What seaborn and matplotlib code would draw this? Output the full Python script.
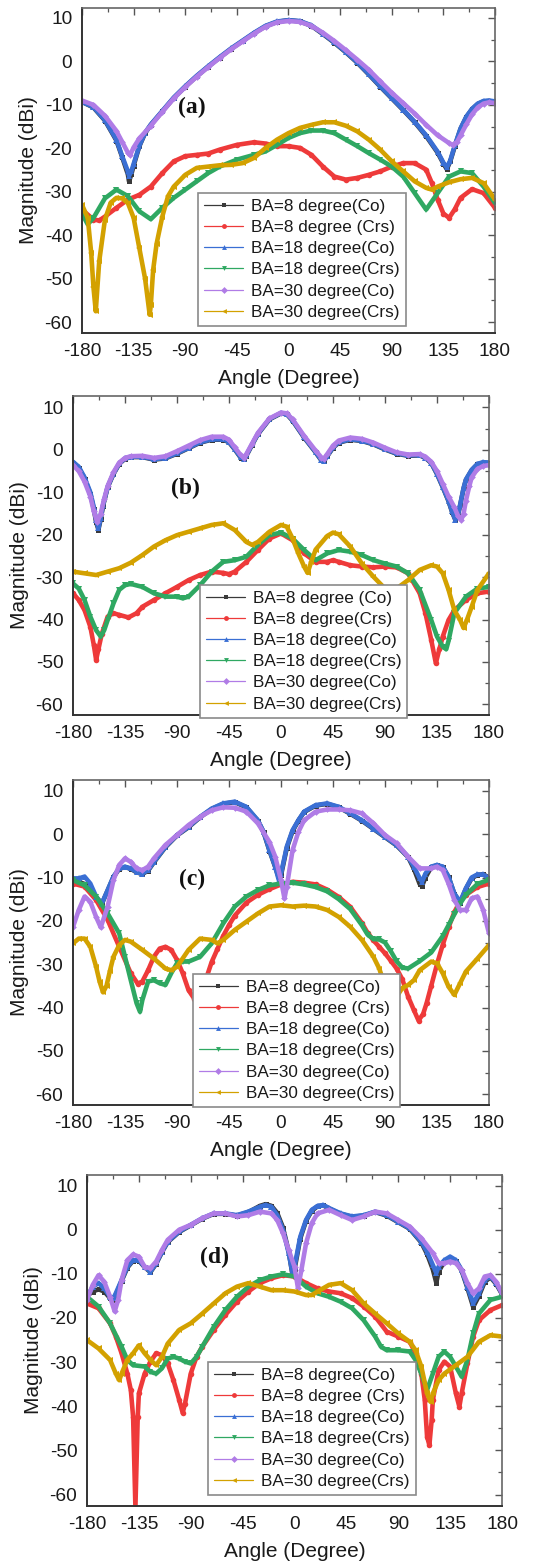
import matplotlib
matplotlib.use("Agg")
import matplotlib.pyplot as plt
from matplotlib.lines import Line2D
from matplotlib.ticker import MultipleLocator
import seaborn as sns

# ---------------- Panel (a) ----------------
A_CO8_X = [-180,-170,-160,-150,-145,-140,-139,-137,-135,-130,-125,-120,-110,-100,-90,-80,-70,-60,-50,-40,-30,-20,-10,0,10,20,30,40,50,60,70,80,90,100,110,120,130,135,138,141,145,150,155,160,165,170,175,180]
A_CO8_Y = [-9.3,-10.6,-13.6,-18.2,-22,-26,-27.6,-26,-24,-19.5,-16.5,-14.6,-11.5,-8.4,-5.8,-3.4,-1.2,0.9,2.9,4.7,6.5,8.1,9.1,9.5,9.2,8.2,6.3,4.3,2.1,-0.3,-3,-5.8,-8.5,-11.2,-14,-17.2,-21,-23.5,-24.8,-23,-19.5,-15.5,-12.8,-11,-9.8,-9.2,-9.1,-9.3]
A_CO18_X = A_CO8_X
A_CO18_Y = [-9.3,-10.5,-13.5,-18,-21.8,-25.3,-26.3,-25.3,-23.6,-19.4,-16.4,-14.5,-11.4,-8.3,-5.7,-3.3,-1.1,1,3,4.8,6.6,8.2,9.2,9.5,9.3,8.3,6.4,4.4,2.2,-0.2,-2.9,-5.7,-8.4,-11.1,-13.9,-17,-20.8,-23.3,-24.4,-22.8,-19.3,-15.4,-12.7,-10.9,-9.7,-9.1,-9,-9.2]
A_CO30_X = [-180,-170,-160,-150,-145,-140,-138,-135,-130,-120,-110,-100,-90,-80,-70,-60,-50,-40,-30,-20,-10,0,10,20,30,40,50,60,70,80,90,100,110,120,130,140,143,147,150,155,160,165,170,175,180]
A_CO30_Y = [-9,-10,-12.5,-16,-18.5,-21,-21.5,-19.8,-17.7,-14.8,-11.6,-8.5,-5.9,-3.5,-1.3,0.8,2.8,4.6,6.4,8,9,9.3,9.1,8.2,6.6,4.7,2.6,0.4,-1.9,-4.6,-7.2,-9.6,-12,-14.6,-17,-18.8,-19.2,-18.5,-17,-14.5,-12.2,-10.6,-9.7,-9.4,-9.6]
A_CRS8_X = [-180,-170,-165,-160,-150,-140,-130,-120,-110,-100,-90,-80,-70,-60,-45,-30,-20,-10,0,10,20,30,40,50,60,70,80,90,100,110,120,125,130,135,140,145,150,160,170,180]
A_CRS8_Y = [-34.1,-36.4,-36.6,-35.7,-33.7,-31.8,-30.7,-28.8,-25.7,-23,-21.8,-21.5,-21.2,-20.3,-19.2,-18.6,-18.9,-19.5,-19.5,-19.9,-21.5,-24.2,-26.5,-27.2,-26.8,-26.1,-25.3,-24.2,-23.4,-23.4,-24.9,-28,-31.8,-35,-36,-34,-31.4,-29.4,-30.3,-33.7]
A_CRS18_X = [-180,-175,-170,-160,-150,-140,-130,-120,-110,-100,-90,-80,-70,-60,-45,-30,-20,-10,0,10,20,30,40,50,60,70,80,90,100,110,120,130,140,150,160,170,180]
A_CRS18_Y = [-35,-37.5,-36,-31.5,-29.5,-31,-34.5,-36.3,-33.7,-31.4,-29.5,-27.6,-25.7,-24.2,-22.6,-21.5,-20.7,-19.2,-17.6,-16.5,-15.9,-15.9,-16.5,-18,-19.5,-21.1,-22.6,-24.2,-26.5,-30.3,-34.1,-30.3,-26.5,-25.3,-25.7,-28.8,-32.6]
A_CRS30_X = [-180,-175,-172,-170,-168,-165,-160,-155,-150,-145,-140,-135,-130,-125,-121,-120,-118,-115,-110,-105,-100,-90,-80,-70,-60,-50,-40,-30,-20,-10,0,10,20,30,40,50,60,70,80,90,100,110,120,125,130,140,150,160,170,180]
A_CRS30_Y = [-33,-36,-44,-52,-57.5,-46,-36.4,-32.5,-31.4,-31.5,-32.6,-36,-43,-50,-58.3,-56,-48,-42,-35.7,-31,-28.8,-26.1,-24.5,-24.2,-23.9,-23.8,-23.4,-22.2,-19.9,-18,-16.5,-15.3,-14.6,-14,-14,-14.8,-16.1,-18,-20.3,-23,-25.3,-27.6,-29.1,-29.5,-28.8,-27.8,-27.1,-26.8,-28,-31.8]

# ---------------- Panel (b) ----------------
B_CO8_X = [-180,-175,-170,-165,-162,-160,-158,-156,-154,-150,-145,-140,-135,-130,-120,-110,-100,-90,-80,-70,-60,-50,-45,-40,-35,-32,-30,-25,-20,-10,0,5,10,20,30,35,37,40,45,50,60,70,80,90,100,110,120,125,130,135,140,145,148,151,153,155,158,160,165,170,175,180]
B_CO8_Y = [-3,-4.2,-6.8,-10.3,-14,-17,-18.8,-16.3,-13.2,-8.8,-5.7,-3.3,-2.1,-1.7,-1.7,-2.3,-2,-0.9,0.4,1.7,2.4,2.4,1.8,0.1,-1.8,-2.2,-1.4,1.2,3.7,7.2,8.6,8.4,6.9,2.9,-0.6,-2.5,-2.7,-1.5,0.5,1.7,2.4,2.1,1.3,0.1,-0.9,-1.4,-1.3,-1.9,-3.1,-5.7,-8.8,-12.1,-14.6,-16.6,-15.6,-13.1,-9.1,-7.1,-4.8,-3.4,-3,-3.1]
B_CO18_X = B_CO8_X
B_CO18_Y = [-2.8,-4,-6.5,-10,-13.5,-16.5,-18.5,-16,-13,-8.7,-5.6,-3.2,-2,-1.6,-1.6,-2.2,-1.9,-0.8,0.5,1.8,2.5,2.5,1.9,0.2,-1.7,-2.1,-1.3,1.3,3.8,7.3,8.7,8.5,7,3,-0.5,-2.4,-2.6,-1.4,0.6,1.8,2.5,2.2,1.4,0.2,-0.8,-1.3,-1.2,-1.8,-3,-5.6,-8.7,-12,-14.5,-16.5,-15.5,-13,-9,-7,-4.7,-3.3,-2.9,-3]
B_CO30_X = [-180,-175,-170,-165,-162,-159,-156,-153,-150,-145,-140,-135,-130,-120,-110,-100,-90,-80,-70,-60,-50,-45,-40,-35,-32,-30,-25,-20,-10,0,5,10,20,30,35,37,40,45,50,60,70,80,90,100,110,120,125,130,135,140,145,150,153,156,158,160,163,165,170,175,180]
B_CO30_Y = [-3.6,-5,-7.5,-11,-14.5,-17,-15,-11.5,-8.5,-5.3,-3,-1.9,-1.5,-1.4,-1.9,-1.5,-0.3,1,2.3,3.1,3.1,2.4,0.6,-1.2,-1.8,-1,1.5,4,7.4,8.8,8.6,7.2,3.3,-0.2,-1.8,-2.1,-1,1,2.2,2.9,2.6,1.7,0.5,-0.6,-1.1,-1,-1.6,-2.8,-5,-8,-11,-13.5,-15.5,-16.5,-15,-12,-8.5,-6.5,-4.5,-3.8,-3.6]
B_CRS8_X = [-180,-175,-170,-165,-162,-160,-158,-155,-150,-145,-140,-132,-125,-120,-110,-100,-90,-80,-70,-60,-50,-45,-40,-30,-20,-10,0,10,20,30,40,45,50,60,70,80,90,100,110,120,125,130,134,137,140,145,150,160,170,180]
B_CRS8_Y = [-33.8,-35.4,-37.8,-41.7,-46,-49.5,-47,-43.3,-39.3,-38.5,-38.9,-39.5,-38.5,-37,-35.4,-33.8,-32.3,-30.7,-29.5,-28.7,-29,-29.3,-28.7,-26.4,-23.6,-20.9,-19.7,-21.3,-24.4,-26.4,-26.4,-26,-26.4,-27.2,-27.5,-27.7,-27.5,-27.7,-29.1,-33.8,-38.5,-44.8,-50.3,-47,-44,-40.1,-37.8,-35.4,-33.8,-33.4]
B_CRS18_X = [-180,-175,-170,-165,-160,-156,-153,-150,-145,-140,-135,-130,-120,-110,-100,-90,-85,-80,-70,-60,-50,-40,-30,-20,-10,0,10,20,30,40,50,60,70,80,90,100,110,120,130,135,140,143,145,150,160,170,180]
B_CRS18_Y = [-31.5,-32.7,-35.4,-39.3,-42.5,-44,-42.5,-40.1,-36.2,-33,-31.9,-31.6,-32.3,-33.8,-34.6,-34.6,-35,-34.6,-31.9,-28.7,-26.4,-26,-25.2,-22.4,-20.1,-19.5,-20.9,-23.6,-26,-24.4,-23.6,-24,-24.8,-26,-26.8,-27.5,-29.1,-33,-40.1,-44,-46.4,-47,-45,-38.5,-34.6,-32.7,-32.3]
B_CRS30_X = [-180,-170,-160,-150,-140,-130,-120,-110,-100,-90,-80,-70,-60,-50,-40,-30,-25,-20,-10,0,5,10,15,20,23,26,30,40,45,50,60,70,80,90,100,110,120,130,135,140,145,150,155,158,161,165,170,180]
B_CRS30_Y = [-28.7,-29.1,-29.5,-28.7,-27.9,-26.6,-24.8,-22.8,-21.3,-20.1,-19.3,-18.5,-17.7,-17.3,-18.9,-21.7,-22.4,-21.7,-19.3,-17.7,-18.1,-20.9,-24.4,-27.5,-29,-26.5,-23.5,-20.3,-19.5,-19.9,-22.8,-26.8,-29.9,-32.7,-32.7,-30.7,-28.3,-27.2,-27.5,-29.1,-33,-37.8,-40.1,-42,-40,-37,-33,-29.1]

# ---------------- Panel (c) ----------------
C_CO8_X = [-180,-175,-170,-165,-160,-155,-150,-145,-140,-135,-130,-125,-120,-115,-110,-100,-90,-80,-70,-60,-50,-40,-30,-20,-15,-10,-5,-2,0,5,10,15,20,30,40,50,60,70,80,90,100,110,115,120,122,125,130,135,140,145,150,155,160,165,170,175,180]
C_CO8_Y = [-10.5,-11,-11.5,-12.5,-14.8,-16,-13,-9.9,-8,-7.6,-8,-8.8,-9.2,-8.4,-6.5,-3,-0.3,1.6,3.9,5.8,7,7.4,6.2,3.1,0.4,-3.8,-7.6,-10,-9.5,-3.2,0.7,3.1,5.1,6.6,7,6.2,4.7,3.1,1.2,-0.7,-2.6,-5.3,-8,-11.5,-12,-10,-7.6,-7.2,-7.6,-9.9,-13.8,-15.8,-12.6,-10.2,-9.4,-9.3,-10]
C_CO18_X = C_CO8_X
C_CO18_Y = [-10.2,-10.2,-9.8,-11.4,-14.4,-16,-12.9,-9.8,-7.9,-7.5,-7.9,-8.7,-9.1,-8.3,-6.4,-2.9,-0.2,1.7,4,5.9,7.1,7.5,6.3,3.2,0.5,-3.7,-7.5,-10.5,-9.1,-2.9,0.9,3.2,5.2,6.7,7.1,6.3,4.8,3.2,1.3,-0.6,-2.5,-5.2,-7.5,-10.2,-11,-9.1,-7.5,-7.1,-7.5,-9.8,-13.7,-15.6,-12.5,-10,-9.3,-9.3,-10.2]
C_CO30_X = [-180,-175,-170,-165,-160,-156,-150,-145,-140,-135,-130,-125,-120,-115,-110,-100,-90,-80,-70,-60,-50,-40,-30,-20,-10,-5,0,3,5,10,15,20,30,40,50,60,70,80,90,100,110,120,130,135,140,145,150,155,160,165,170,175,180]
C_CO30_Y = [-21.4,-17.5,-14.4,-15.6,-19.1,-21.5,-16.7,-10.6,-7.1,-5.6,-6.4,-7.9,-8.3,-7.5,-5.6,-2.5,-0.2,2.1,4,5.5,6.2,6.1,5.2,2.5,-1.8,-5.2,-10.6,-14.8,-12.1,-3.7,0.5,3.2,5.2,5.7,5.7,5.5,4.8,2.5,-0.2,-2.1,-5.2,-7.9,-7.9,-7.5,-8.3,-11.4,-15.2,-17.5,-17.5,-14.8,-14.4,-17.5,-22.9]
C_CRS8_X = [-180,-170,-160,-150,-140,-130,-124,-120,-115,-110,-105,-100,-95,-90,-85,-80,-75,-70,-65,-60,-55,-50,-45,-40,-30,-20,-10,0,10,20,30,40,50,60,70,75,80,85,90,95,100,105,110,115,119,123,126,130,135,140,145,150,155,160,170,180]
C_CRS8_Y = [-11.4,-12.1,-15.2,-19.8,-26,-32.1,-34.5,-34,-31.4,-28.3,-26.4,-26,-26.7,-29,-32.1,-36,-38,-37,-33.5,-29.5,-26.5,-23.5,-21,-18.8,-15.8,-14,-12.7,-11.6,-11,-11.2,-11.6,-12.8,-14.5,-16.8,-20.5,-22.8,-24.5,-26,-27.5,-29.2,-31,-33.5,-37.5,-40.6,-43,-41.5,-39,-35,-30,-25.5,-21.5,-18,-15.5,-14,-12.2,-11.4]
C_CRS18_X = [-180,-170,-160,-150,-140,-135,-130,-125,-122,-120,-115,-110,-105,-100,-95,-90,-85,-80,-70,-60,-50,-40,-30,-20,-10,0,10,20,30,40,50,60,70,75,80,85,90,95,100,105,110,120,130,140,145,150,155,160,170,180]
C_CRS18_Y = [-10.6,-11.8,-14.4,-18.3,-22.9,-28.3,-33.7,-39,-41,-38.3,-34,-33.7,-34.4,-34.8,-32.1,-29.8,-29.4,-29.4,-28.3,-25.2,-20.6,-16.7,-14.4,-12.9,-11.8,-11.4,-11.2,-11.6,-12.2,-13.2,-15,-17.3,-21,-23.2,-24.2,-24.3,-25,-27,-29.3,-30.8,-31,-29.3,-27.3,-23.5,-21,-18.5,-16,-14,-11.5,-10.5]
C_CRS30_X = [-180,-175,-170,-165,-160,-157,-154,-151,-148,-145,-140,-135,-130,-120,-110,-100,-95,-90,-80,-70,-60,-55,-50,-40,-30,-20,-10,0,10,20,30,40,50,60,70,80,85,90,95,100,105,110,115,120,130,135,140,145,150,155,160,170,180]
C_CRS30_Y = [-25.2,-24.1,-24.1,-26,-30.6,-34,-36.5,-35,-31.5,-28.3,-25.6,-24.4,-24.8,-26.7,-28.7,-31,-31.4,-30.6,-26.7,-24.1,-24.4,-25.2,-24.4,-22.1,-20.2,-18.3,-16.7,-16.4,-16.7,-16.5,-16.7,-17.5,-19.1,-21.4,-24.4,-28.3,-31,-35,-41,-37.5,-35.5,-34.8,-33.7,-31.4,-29.4,-29.8,-32.1,-35.2,-37.1,-34.4,-31.7,-28.7,-25.6]

# ---------------- Panel (d) ----------------
D_CO8_X = [-180,-175,-170,-165,-160,-157,-155,-150,-145,-140,-135,-130,-125,-120,-115,-110,-100,-90,-80,-70,-60,-50,-40,-30,-25,-20,-15,-10,-5,-2,0,5,10,15,20,25,30,40,50,60,70,80,90,100,110,115,120,123,125,130,135,140,145,150,155,160,165,170,175,180]
D_CO8_Y = [-15,-14,-13.5,-14,-15.5,-16,-14.8,-11.6,-8.6,-7,-7,-8.5,-9.6,-7.7,-5.1,-2.8,-0.5,1,2.5,3.6,3.6,3.2,4,5.4,5.8,5.4,3.8,0.5,-5,-9.8,-9,-2,2,4.3,5.3,5.5,4.8,3.6,2.9,3.2,4,3.2,1.7,0.2,-2.9,-5.5,-9,-12,-9.5,-7.2,-6.3,-7.1,-9.3,-13.2,-17.5,-15,-11.8,-10.8,-12.3,-14.6]
D_CO18_X = D_CO8_X
D_CO18_Y = [-15.2,-12.9,-12.1,-13.3,-15.2,-15.5,-14.4,-11.4,-8.4,-6.9,-6.9,-8.4,-9.5,-7.6,-5,-2.7,-0.4,1.1,2.6,3.7,3.7,3.3,4.1,5.2,5.6,5.2,3.3,0,-5.3,-9.5,-8.4,-1.6,2.2,4.5,5.4,5.6,4.9,3.7,3,3.3,4.1,3.3,1.8,0.3,-2.7,-5,-8,-9.8,-8.4,-6.9,-6.1,-6.9,-9.1,-12.9,-16.7,-14.4,-11.4,-10.6,-12.1,-14.4]
D_CO30_X = [-180,-175,-170,-165,-160,-156,-153,-150,-145,-140,-135,-130,-125,-120,-115,-110,-100,-90,-80,-70,-60,-50,-40,-30,-20,-15,-10,-5,0,3,6,10,15,20,30,40,50,60,70,80,90,100,110,120,125,130,135,140,145,150,155,160,165,170,175,180]
D_CO30_Y = [-15.9,-12.5,-10.3,-11.8,-15.2,-18.5,-15.9,-11.4,-6.9,-5.6,-6.1,-8.4,-8.7,-7.2,-4.6,-2.3,0,1.1,2.6,3.7,3.7,3,3.3,4.1,3.7,2.2,-0.8,-4.6,-8.4,-13.2,-9.1,-3.1,1.5,3.7,4.5,3.3,2.2,3,4.1,3.7,2.2,0.7,-1.9,-5.3,-7.6,-7.6,-7.2,-7.6,-9.1,-12.1,-14.4,-13.3,-10.6,-10.3,-11.8,-14.4]
D_CRS8_X = [-180,-170,-160,-155,-150,-145,-142,-140,-138,-136,-135,-130,-125,-120,-115,-110,-105,-100,-97,-95,-90,-85,-80,-70,-60,-50,-40,-30,-20,-10,0,10,20,30,40,50,60,70,80,90,100,105,110,113,115,117,119,120,125,130,135,140,143,145,150,155,160,170,180]
D_CRS8_Y = [-16.7,-17.8,-21.2,-24.2,-28,-32.6,-36.3,-42.4,-63,-42.4,-37.1,-32.6,-29.9,-28,-28.4,-30.3,-34.1,-38.6,-41.5,-39.4,-32.6,-28.8,-26.5,-22.7,-19.3,-16.3,-14,-12.1,-11,-10.3,-10.6,-12.1,-13.3,-14,-14.4,-15.5,-17.4,-19.7,-23.1,-24.2,-25.4,-28,-32.6,-38.6,-46.9,-48.8,-43.1,-38.6,-31.8,-29.9,-31,-37.1,-40.1,-37.1,-30.3,-24.2,-20.5,-18.2,-17.1]
D_CRS18_X = [-180,-170,-160,-150,-145,-140,-130,-125,-120,-115,-110,-105,-100,-95,-90,-85,-80,-70,-60,-50,-40,-30,-20,-10,0,10,20,30,40,50,60,70,75,80,90,100,105,110,115,120,125,130,135,140,145,150,155,160,170,180]
D_CRS18_Y = [-15.2,-17.4,-21.2,-26.5,-29.5,-30.7,-31,-32.2,-32.6,-31.4,-29.2,-28.8,-29.2,-29.9,-30.3,-28.8,-26.5,-22,-18.2,-15.2,-12.9,-11.4,-10.6,-10.1,-10.6,-12.9,-14.4,-15.2,-16.3,-17.8,-20.5,-24.2,-26.5,-27.3,-27.3,-27.6,-29.5,-32.6,-36.3,-32.6,-28.8,-27.6,-28.8,-31,-33.3,-29.5,-23.5,-19,-15.9,-15.2]
D_CRS30_X = [-180,-170,-160,-155,-152,-150,-145,-140,-135,-130,-125,-120,-115,-110,-100,-90,-80,-70,-60,-50,-40,-30,-20,-10,0,10,15,20,30,40,50,60,70,80,90,100,105,110,115,118,120,125,130,140,150,160,170,180]
D_CRS30_Y = [-25,-26.9,-29.5,-32.6,-34.1,-32.6,-29.5,-28,-26.2,-28,-29.5,-30.7,-28.8,-25.8,-22.7,-21.2,-19,-16.7,-14.4,-12.9,-12.1,-12.9,-13.7,-13.7,-14,-14.8,-14.8,-14,-12.5,-12.1,-13.7,-16.7,-19,-21.2,-23.5,-25.4,-27.3,-31,-37.1,-39,-37.1,-34.1,-32.6,-30.7,-28.8,-25.4,-23.9,-24.2]

LABELS_A = ["BA=8 degree(Co)", "BA=8 degree (Crs)", "BA=18 degree(Co)",
            "BA=18 degree(Crs)", "BA=30 degree(Co)", "BA=30 degree(Crs)"]
LABELS_B = ["BA=8 degree (Co)", "BA=8 degree(Crs)", "BA=18 degree(Co)",
            "BA=18 degree(Crs)", "BA=30 degree(Co)", "BA=30 degree(Crs)"]
X_TICKS = [-180, -135, -90, -45, 0, 45, 90, 135, 180]
Y_TICKS = [-60, -50, -40, -30, -20, -10, 0, 10]

COLORS = ["#3a3a3a", "#ee3a3a", "#3a6fd4", "#2fa862", "#b07ce6", "#d3a100"]
MARKERS = ["s", "o", "^", "v", "D", "<"]
MSIZE = [3.6, 4.0, 4.2, 4.2, 3.4, 4.2]

sns.set_theme(style="white")
plt.rcParams["font.family"] = ["Liberation Sans", "DejaVu Sans"]
plt.rcParams["axes.unicode_minus"] = False

fig = plt.figure(figsize=(5.48, 15.66), dpi=100)

panels = [
    dict(pos=[82/548, 1-333/1566, 413/548, 325/1566], ylim=(-62.5, 12.3),
         series=[(A_CO8_X, A_CO8_Y), (A_CRS8_X, A_CRS8_Y), (A_CO18_X, A_CO18_Y),
                 (A_CRS18_X, A_CRS18_Y), (A_CO30_X, A_CO30_Y), (A_CRS30_X, A_CRS30_Y)],
         labels=LABELS_A, tag="(a)", tagxy=(-84, -10.5), leg=(0.281, 0.431)),
    dict(pos=[73/548, 1-715/1566, 416/548, 319/1566], ylim=(-62.5, 12.7),
         series=[(B_CO8_X, B_CO8_Y), (B_CRS8_X, B_CRS8_Y), (B_CO18_X, B_CO18_Y),
                 (B_CRS18_X, B_CRS18_Y), (B_CO30_X, B_CO30_Y), (B_CRS30_X, B_CRS30_Y)],
         labels=LABELS_B, tag="(b)", tagxy=(-83, -9.0), leg=(0.305, 0.408)),
    dict(pos=[73/548, 1-1105/1566, 416/548, 325/1566], ylim=(-62.5, 12.5),
         series=[(C_CO8_X, C_CO8_Y), (C_CRS8_X, C_CRS8_Y), (C_CO18_X, C_CO18_Y),
                 (C_CRS18_X, C_CRS18_Y), (C_CO30_X, C_CO30_Y), (C_CRS30_X, C_CRS30_Y)],
         labels=LABELS_A, tag="(c)", tagxy=(-77, -10.4), leg=(0.288, 0.403)),
    dict(pos=[87/548, 1-1506/1566, 415/548, 331/1566], ylim=(-62.6, 12.4),
         series=[(D_CO8_X, D_CO8_Y), (D_CRS8_X, D_CRS8_Y), (D_CO18_X, D_CO18_Y),
                 (D_CRS18_X, D_CRS18_Y), (D_CO30_X, D_CO30_Y), (D_CRS30_X, D_CRS30_Y)],
         labels=LABELS_A, tag="(d)", tagxy=(-69, -6.2), leg=(0.292, 0.435)),
]

for p in panels:
    ax = fig.add_axes(p["pos"])
    ax.set_facecolor("white")
    for i, (xs, ys) in enumerate(p["series"]):
        sns.lineplot(x=xs, y=ys, ax=ax, color=COLORS[i], linewidth=3.3,
                     marker=MARKERS[i], markersize=MSIZE[i], markeredgewidth=0,
                     sort=False, estimator=None, legend=False)
    ax.set_xlim(-180, 180)
    ax.set_ylim(*p["ylim"])
    ax.set_xticks(X_TICKS)
    ax.set_yticks(Y_TICKS)
    ax.xaxis.set_minor_locator(MultipleLocator(22.5))
    ax.yaxis.set_minor_locator(MultipleLocator(5))
    ax.tick_params(axis="both", which="major", direction="out", length=5, width=1.1,
                   color="#333333", labelsize=13.8, labelcolor="#1a1a1a", pad=2)
    ax.tick_params(axis="both", which="minor", direction="out", length=3, width=1.0,
                   color="#333333")
    # mirrored inward ticks on top and right
    for side in ("top", "right"):
        sec = ax.secondary_xaxis("top") if side == "top" else ax.secondary_yaxis("right")
        if side == "top":
            sec.set_xticks(X_TICKS)
            sec.xaxis.set_minor_locator(MultipleLocator(22.5))
        else:
            sec.set_yticks(Y_TICKS)
            sec.yaxis.set_minor_locator(MultipleLocator(5))
        sec.tick_params(which="major", direction="in", length=5, width=1.0,
                        color="#555555", labelsize=0, labelcolor="none")
        sec.tick_params(which="minor", direction="in", length=3, width=0.9, color="#555555")
        sec.spines[side].set_visible(False)
    for s in ("left", "bottom"):
        ax.spines[s].set_color("#333333")
        ax.spines[s].set_linewidth(1.4)
    for s in ("top", "right"):
        ax.spines[s].set_color("#666666")
        ax.spines[s].set_linewidth(1.2)
    ax.set_xlabel("Angle (Degree)", fontsize=15, color="#1a1a1a", labelpad=7)
    ax.set_ylabel("Magnitude (dBi)", fontsize=15, color="#1a1a1a", labelpad=5)
    ax.text(p["tagxy"][0], p["tagxy"][1], p["tag"], fontfamily="Liberation Serif",
            fontweight="bold", fontsize=17, ha="center", va="center", color="#111111")
    handles = [Line2D([0], [0], color=COLORS[i], lw=0.9, marker=MARKERS[i],
                      markersize=3.5, markeredgewidth=0) for i in range(6)]
    leg = ax.legend(handles, p["labels"], loc="upper left", bbox_to_anchor=p["leg"],
                    fontsize=12.3, frameon=True, fancybox=False, framealpha=1,
                    edgecolor="#8a8a8a", borderpad=0.35, labelspacing=0.36,
                    handlelength=2.3, handletextpad=0.45, borderaxespad=0)
    leg.get_frame().set_linewidth(1.2)
    for t in leg.get_texts():
        t.set_color("#1a1a1a")

fig.savefig("out.png", dpi=100, facecolor="white")
